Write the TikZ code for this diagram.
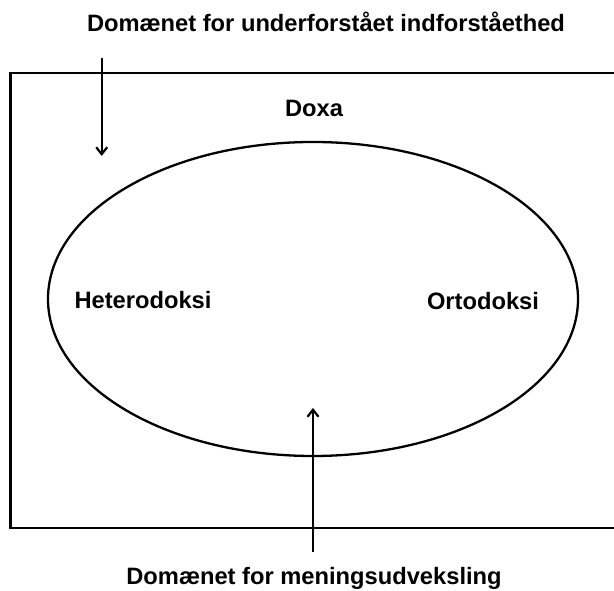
\documentclass[tikz,border=0pt]{standalone}
\usepackage{fontspec}
\setmainfont{Liberation Sans}
\usetikzlibrary{shapes.geometric,arrows.meta}
\tikzset{
  frame/.style={line width=2.3pt},
  label/.style={font=\bfseries\fontsize{23.7}{28}\selectfont, inner sep=0pt, anchor=base},
  pointer/.style={line width=2.2pt, -{Straight Barb[length=7pt, width=11pt, line width=2.2pt]}},
}
\begin{document}
\begin{tikzpicture}[x=1pt, y=1pt]
  \useasboundingbox (0,0) rectangle (614,591);
  \clip (0,0) rectangle (614,591);
  % outer domain frame, running off the right edge
  \draw[frame] (10.5,63) rectangle (625,518);
  % doxa ellipse
  \node[frame, draw, ellipse, inner sep=0pt, minimum width=530pt, minimum height=314pt] (doxa) at (313,292) {};
  % labels
  \node[label] (top) at (326,559) {Domænet for underforstået indforståethed};
  \node[label] (doxalbl) at (314,474) {Doxa};
  \node[label] (hetero) at (143,282) {Heterodoksi};
  \node[label] (orto) at (483,281) {Ortodoksi};
  \node[label] (bottom) at (314,6) {Domænet for meningsudveksling};
  % pointers
  \coordinate (topstart) at (101.7,533);
  \coordinate (topend) at (101.7,435);
  \coordinate (botstart) at (313,39);
  \coordinate (botend) at (313,183);
  \draw[pointer] (topstart) -- (topend);
  \draw[pointer] (botstart) -- (botend);
\end{tikzpicture}
\end{document}
